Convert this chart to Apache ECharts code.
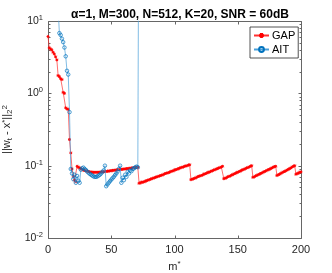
<!DOCTYPE html>
<html>
<head>
<meta charset="utf-8">
<script src="https://cdn.jsdelivr.net/npm/echarts@6/dist/echarts.min.js"></script>
<style>html,body{margin:0;padding:0;background:#fff}#c{width:332px;height:273px}</style>
</head>
<body>
<div id="c"></div>
<script>
// ---- data ----
const titleText = 'α=1, M=300, N=512, K=20, SNR = 60dB';
const xTicks = [0, 50, 100, 150, 200];
const yMajorTicks = [0.01, 0.1, 1, 10];
const yMinorTicks = [0.02,0.03,0.04,0.05,0.06,0.07,0.08,0.09,0.2,0.3,0.4,0.5,0.6,0.7,0.8,0.9,2,3,4,5,6,7,8,9];
// GAP: values for m = 0,1,2,...,200
const gapStart = 0;
const gapValues = [
 6.1,4.25,4.1,4.0,3.7,3.5,3.2,2.9,1.76,1.7,
 1.6,1.55,1.03,1.0,0.63,0.61,0.6,0.23,0.15,0.09,
 0.071,0.063,0.06,0.098,0.095,0.093,0.091,0.089,0.087,0.086,
 0.085,0.084,0.083,0.082,0.082,0.081,0.081,0.081,0.081,0.081,
 0.081,0.081,0.082,0.082,0.082,0.083,0.083,0.084,0.084,0.085,
 0.085,0.086,0.086,0.087,0.087,0.088,0.088,0.089,0.089,0.089,
 0.09,0.09,0.091,0.091,0.092,0.092,0.093,0.093,0.094,0.094,
 0.095,0.095,0.057,0.058,0.059,0.059,0.06,0.061,0.062,0.063,
 0.064,0.065,0.066,0.067,0.068,0.069,0.07,0.071,0.072,0.073,
 0.074,0.075,0.077,0.078,0.079,0.08,0.081,0.083,0.084,0.085,
 0.087,0.088,0.089,0.091,0.092,0.094,0.095,0.096,0.098,0.099,
 0.1,0.102,0.103,0.064,0.065,0.066,0.067,0.068,0.07,0.071,
 0.072,0.073,0.074,0.076,0.077,0.078,0.08,0.081,0.082,0.084,
 0.085,0.087,0.088,0.09,0.091,0.093,0.094,0.096,0.098,0.066,
 0.067,0.068,0.07,0.071,0.072,0.074,0.075,0.077,0.078,0.08,
 0.081,0.083,0.084,0.086,0.088,0.089,0.091,0.093,0.094,0.096,
 0.098,0.1,0.069,0.07,0.072,0.073,0.075,0.076,0.078,0.079,
 0.081,0.083,0.084,0.086,0.088,0.089,0.091,0.093,0.095,0.097,
 0.098,0.073,0.075,0.076,0.078,0.08,0.082,0.083,0.085,0.087,
 0.089,0.091,0.093,0.096,0.098,0.1,0.076,0.078,0.079,0.081,
 0.082
];
// AIT: values for m = 8,9,...,72 (earlier iterates are above the plotted range)
const aitStart = 8;
const aitValues = [
 15,6.8,6.4,5.7,5.1,4.3,3.25,2.05,1.82,0.55,
 0.09,0.078,0.065,0.075,0.058,0.072,0.062,0.058,0.088,0.092,
 0.094,0.09,0.087,0.083,0.08,0.077,0.075,0.073,0.071,0.07,
 0.07,0.071,0.073,0.075,0.078,0.082,0.086,0.1,0.052,0.055,
 0.058,0.061,0.064,0.067,0.07,0.074,0.078,0.083,0.09,0.1,
 0.058,0.068,0.063,0.075,0.07,0.082,0.078,0.086,0.084,0.09,
 0.092,0.095,0.097,0.095,5000
];

const toPairs = (start, vals) => vals.map((v, i) => [start + i, v]);
const AX = '#262626';
const BOX = '#666666';
const asterisk = 'path://M0,-5L0,5M-5,0L5,0M-3.6,-3.6L3.6,3.6M-3.6,3.6L3.6,-3.6';
const X0 = 0, X1 = 200, Y0 = 0.01, Y1 = 10;

const chart = echarts.init(document.getElementById('c'), null, {renderer: 'canvas'});
const labelRich = {
  sup: {fontSize: 7.5, color: AX, verticalAlign: 'top', padding: [0,0,6,0], fontFamily: 'Liberation Sans'}
};
const line = (x1, y1, x2, y2) => ({type: 'line', silent: true,
  shape: {x1: Math.round(x1) + 0.5, y1: Math.round(y1) + 0.5, x2: Math.round(x2) + 0.5, y2: Math.round(y2) + 0.5},
  style: {stroke: BOX, lineWidth: 1}});
chart.setOption({
  animation: false,
  backgroundColor: '#fff',
  title: {
    text: titleText,
    left: 175, top: 4, textAlign: 'center',
    textStyle: {fontSize: 12, fontWeight: 'bold', color: '#000', fontFamily: 'Liberation Sans'}
  },
  legend: {
    orient: 'vertical',
    left: 250, top: 27,
    backgroundColor: '#fff',
    borderColor: AX, borderWidth: 0.8,
    padding: [3, 3, 3, 3],
    itemWidth: 15, itemHeight: 6, itemGap: 3,
    textStyle: {fontSize: 11, color: '#000', fontFamily: 'Liberation Sans', padding: [0,0,0,-2]},
    data: ['GAP', 'AIT']
  },
  grid: {left: 48, top: 21, width: 253, height: 217, containLabel: false, outerBoundsMode: 'none'},
  xAxis: {
    type: 'value', min: X0, max: X1, interval: 50,
    axisLine: {show: false}, axisTick: {show: false},
    axisLabel: {fontSize: 11, color: AX, margin: 6, fontFamily: 'Liberation Sans',
      formatter: v => xTicks.includes(v) ? String(v) : ''},
    splitLine: {show: false},
    name: 'm{sup|*}', nameLocation: 'middle', nameGap: 22,
    nameTextStyle: {fontSize: 11, color: AX, fontFamily: 'Liberation Sans',
      rich: {sup: {fontSize: 8, color: AX, verticalAlign: 'top', padding: [0,0,5,0]}}}
  },
  yAxis: {
    type: 'log', logBase: 10, min: Y0, max: Y1,
    axisLine: {show: false}, axisTick: {show: false},
    axisLabel: {fontSize: 10.5, color: AX, margin: 5, fontFamily: 'Liberation Sans', rich: labelRich,
      formatter: v => '10{sup|' + Math.round(Math.log10(v)) + '}'},
    splitLine: {show: false},
    name: '||w{sub|t} - x{sup|*}||{sub|2}{sup|2}', nameLocation: 'middle', nameGap: 31, nameRotate: 90,
    nameTextStyle: {fontSize: 11, color: AX, fontFamily: 'Liberation Sans',
      rich: {
        sup: {fontSize: 8, color: AX, verticalAlign: 'top', padding: [0,0,5,0]},
        sub: {fontSize: 8, color: AX, verticalAlign: 'bottom', padding: [5,0,0,0]}
      }}
  },
  series: [
    {
      // axes box with ticks, drawn through the axis scales
      type: 'custom', silent: true, z: 1, clip: false,
      data: [[X0, Y0]],
      renderItem: (params, api) => {
        const bl = api.coord([X0, Y0]), tr = api.coord([X1, Y1]);
        const ch = [
          line(bl[0], bl[1], tr[0], bl[1]), line(bl[0], tr[1], tr[0], tr[1]),
          line(bl[0], bl[1], bl[0], tr[1]), line(tr[0], bl[1], tr[0], tr[1])
        ];
        xTicks.forEach(t => {
          const p = api.coord([t, Y0]);
          ch.push(line(p[0], bl[1], p[0], bl[1] - 3), line(p[0], tr[1], p[0], tr[1] + 3));
        });
        yMajorTicks.forEach(t => {
          const p = api.coord([X0, t]);
          ch.push(line(bl[0], p[1], bl[0] + 3, p[1]), line(tr[0], p[1], tr[0] - 3, p[1]));
        });
        yMinorTicks.forEach(t => {
          const p = api.coord([X0, t]);
          ch.push(line(bl[0], p[1], bl[0] + 2, p[1]), line(tr[0], p[1], tr[0] - 2, p[1]));
        });
        return {type: 'group', children: ch};
      }
    },
    {
      name: 'GAP', type: 'line',
      data: toPairs(gapStart, gapValues),
      color: '#ff0000',
      lineStyle: {color: '#ff3030', width: 0.7},
      symbol: asterisk, symbolSize: 3,
      itemStyle: {color: '#ff0000', borderColor: '#ff0000', borderWidth: 0.9},
      clip: true, z: 3
    },
    {
      name: 'AIT', type: 'line',
      data: toPairs(aitStart, aitValues),
      color: '#0072BD',
      lineStyle: {color: '#4a9fd8', width: 0.7},
      symbol: 'circle', symbolSize: 3.5,
      itemStyle: {color: 'rgba(255,255,255,0)', borderColor: '#0072BD', borderWidth: 0.7},
      clip: true, z: 4
    }
  ]
});
</script>
</body>
</html>
